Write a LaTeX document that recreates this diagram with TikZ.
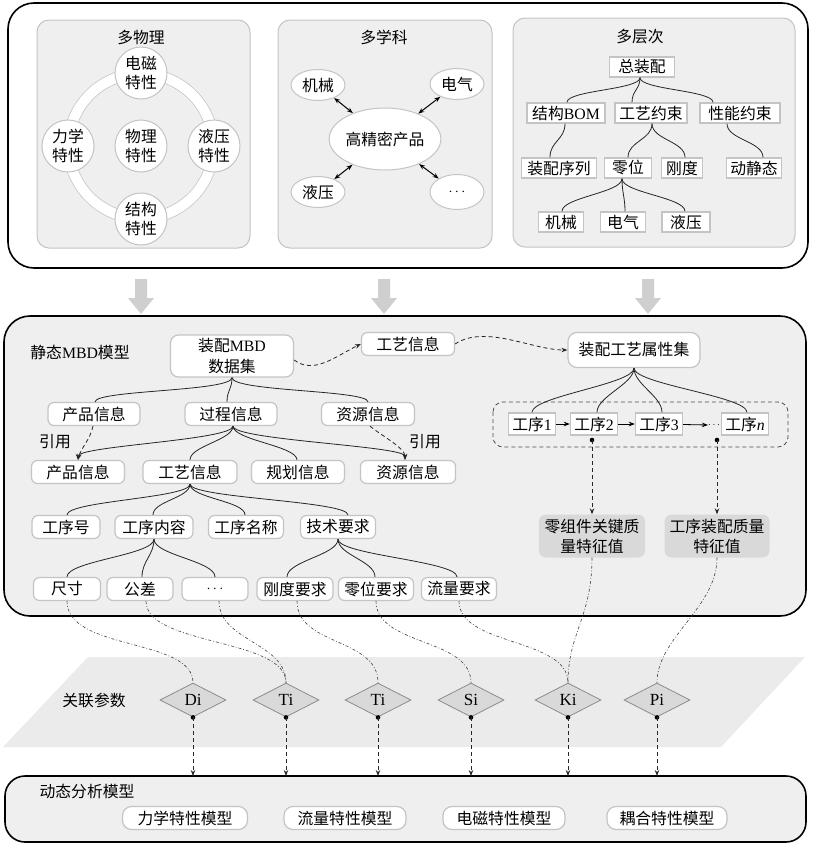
\documentclass[tikz,border=0pt]{standalone}
\usepackage{fontspec}
\setmainfont{Noto Sans CJK SC}
\newfontfamily\lat{Liberation Serif}
\usetikzlibrary{shapes.geometric,arrows.meta,calc}
\definecolor{pbg}{HTML}{EFEFEF}
\definecolor{bd}{HTML}{C4C4C4}
\definecolor{dk}{HTML}{D9D9D9}
\definecolor{arr}{HTML}{CFCFCF}
\definecolor{plane}{HTML}{EBEBEB}
\newcommand\myfs{\fontsize{15.8}{18}\selectfont}
\begin{document}
\begin{tikzpicture}[x=1pt,y=-1pt,font=\myfs,
 panel/.style={draw=black,line width=1.6pt,rounded corners=26pt},
 sub/.style={fill=pbg,draw=bd,line width=1pt,rounded corners=12pt},
 rbox/.style={draw=bd,fill=white,line width=1.2pt,rounded corners=6pt,minimum height=23pt,inner sep=1pt},
 sbox/.style={draw=bd,fill=white,line width=1.4pt,minimum height=20pt,inner sep=1.5pt},
 circ/.style={circle,draw=bd,fill=white,line width=1pt,minimum size=52pt,inner sep=0pt,align=center,font=\fontsize{15.8}{19}\selectfont},
 ell/.style={ellipse,draw=bd,fill=white,line width=1pt,inner sep=0pt,minimum width=54pt,minimum height=31pt},
 tree/.style={draw=black!85,line width=0.8pt},
 dsh/.style={draw=black!85,line width=0.8pt,dash pattern=on 4pt off 3pt},
 dd/.style={draw=black!75,line width=0.6pt,dash pattern=on 3pt off 2pt on 0.8pt off 2pt},
 dia/.style={diamond,aspect=2,draw=black!45,fill=dk,line width=0.8pt,minimum width=66pt,minimum height=34pt,inner sep=0pt,font=\lat\fontsize{17}{19}\selectfont},
 gbox/.style={fill=dk,rounded corners=7pt,align=center,minimum width=106pt,minimum height=43pt,inner sep=1pt,font=\fontsize{15.8}{20}\selectfont},
 >={Stealth[length=6pt,width=4.5pt]}
]
\useasboundingbox (0,0) rectangle (813,846);

% ---------- top panel ----------
\draw[panel,fill=white] (8,3) rectangle (808,268);
\draw[sub] (37,20) rectangle (250,248);
\draw[sub] (278,20) rectangle (492,248);
\draw[sub] (513,18) rectangle (795,247);
\node (t1) at (141,37) {多物理};
\node (t2) at (384,37) {多学科};
\node (t3) at (640,37) {多层次};

% multi-physics ring
\fill[white,even odd rule] (141,146) circle (78pt) (141,146) circle (67pt);
\draw[bd,line width=0.6pt] (141,146) circle (78pt) (141,146) circle (67pt);
\node[circ] (em) at (141,73) {电磁\\特性};
\node[circ] (lx) at (68,146) {力学\\特性};
\node[circ] (yy) at (214,146) {液压\\特性};
\node[circ] (jg) at (141,219) {结构\\特性};
\node[circ] (wl) at (141,146) {物理\\特性};

% multi-discipline
\node[ell,minimum width=96pt,minimum height=62pt] (gj) at (385,139) {高精密产品};
\node[ell] (jx) at (318,85) {机械};
\node[ell] (dq) at (457,84) {电气};
\node[ell] (yy2) at (318,192) {液压};
\node[ell,minimum height=35pt] (dt) at (457,192) {$\cdots$};
\foreach \n in {jx,dq,yy2,dt} \draw[<->,line width=1pt] (gj) -- (\n);

% multi-level
\node[sbox,minimum width=65pt] (zp) at (642,67) {总装配};
\node[sbox,minimum width=78pt] (bom) at (566,113) {结构{\lat BOM}};
\node[sbox,minimum width=72pt] (gy) at (651,113) {工艺约束};
\node[sbox,minimum width=80pt] (xn) at (740,113) {性能约束};
\node[sbox,minimum width=75pt] (xl) at (559,168) {装配序列};
\node[sbox,minimum width=47pt] (lw) at (628,168) {零位};
\node[sbox,minimum width=41pt] (gd) at (682,168) {刚度};
\node[sbox,minimum width=55pt] (dj) at (754,168) {动静态};
\node[sbox,minimum width=45pt] (jx2) at (561,222) {机械};
\node[sbox,minimum width=45pt] (dq2) at (623,222) {电气};
\node[sbox,minimum width=48pt] (yy3) at (686,222) {液压};
\draw[tree] ([xshift=-2pt]zp.south) .. controls +(0,12) and +(0,-12) .. ([xshift=1pt]bom.north);
\draw[tree] ([xshift=-2pt]zp.south) .. controls +(0,12) and +(0,-12) .. ([xshift=-19pt]gy.north);
\draw[tree] ([xshift=-2pt]zp.south) .. controls +(0,12) and +(0,-12) .. ([xshift=-27pt]xn.north);
\draw[tree] ([xshift=-1pt]bom.south) .. controls +(0,16) and +(0,-16) .. ([xshift=-9pt]xl.north);
\draw[tree] ([xshift=1pt]gy.south) .. controls +(0,16) and +(0,-16) .. (lw.north);
\draw[tree] ([xshift=1pt]gy.south) .. controls +(0,16) and +(0,-16) .. ([xshift=3pt]gd.north);
\draw[tree] ([xshift=-13pt]xn.south) .. controls +(0,16) and +(0,-16) .. ([xshift=9pt]dj.north);
\draw[tree] ([xshift=-6pt]lw.south) .. controls +(0,14) and +(0,-14) .. ([xshift=1pt]jx2.north);
\draw[tree] ([xshift=-6pt]lw.south) .. controls +(0,14) and +(0,-14) .. ([xshift=2pt]dq2.north);
\draw[tree] ([xshift=-6pt]lw.south) .. controls +(0,14) and +(0,-14) .. ([xshift=-1pt]yy3.north);

% block arrows
\foreach \x in {141,384,648}
  \fill[arr] ({\x-6},279) -- ({\x+6},279) -- ({\x+6},298) -- ({\x+13},298) -- (\x,314) -- ({\x-13},298) -- ({\x-6},298) -- cycle;

% ---------- middle panel ----------
\draw[panel,fill=pbg] (4,316) rectangle (806,616);
\node (smbd) at (80,352) {静态{\lat MBD}模型};
\node[rbox,minimum width=123pt,minimum height=42pt,align=center,rounded corners=8pt,font=\fontsize{15.8}{21}\selectfont] (mbd) at (232,356) {装配{\lat MBD}\\数据集};
\node[rbox,minimum width=93pt] (gy1) at (408,344) {工艺信息};
\node[rbox,minimum width=132pt,minimum height=35pt,rounded corners=9pt] (sx) at (634,350) {装配工艺属性集};
\node[rbox,minimum width=92pt] (cp1) at (94,414) {产品信息};
\node[rbox,minimum width=92pt] (gc) at (231,414) {过程信息};
\node[rbox,minimum width=93pt] (zy1) at (368,414) {资源信息};
\node (yy1) at (55,442) {引用};
\node (yyr) at (425,442) {引用};
\node[rbox,minimum width=93pt] (cp2) at (78,472) {产品信息};
\node[rbox,minimum width=94pt] (gy2) at (190,472) {工艺信息};
\node[rbox,minimum width=93pt] (gh) at (298,472) {规划信息};
\node[rbox,minimum width=95pt] (zy2) at (408,472) {资源信息};
\node[rbox,minimum width=68pt] (gxh) at (66,527) {工序号};
\node[rbox,minimum width=78pt] (gxnr) at (154,527) {工序内容};
\node[rbox,minimum width=75pt] (gxmc) at (246,527) {工序名称};
\node[rbox,minimum width=75pt] (jsyq) at (338,527) {技术要求};
\node[rbox,minimum width=67pt] (cc) at (67,589) {尺寸};
\node[rbox,minimum width=66pt] (gc2) at (140,589) {公差};
\node[rbox,minimum width=66pt] (el) at (215,589) {$\cdots$};
\node[rbox,minimum width=76pt] (gdyq) at (295,589) {刚度要求};
\node[rbox,minimum width=75pt] (lwyq) at (376,589) {零位要求};
\node[rbox,minimum width=75pt] (llyq) at (459,589) {流量要求};

\draw[tree] (mbd.south) .. controls +(0,14) and +(0,-12) .. ([xshift=1pt]cp1.north);
\draw[tree] (mbd.south) .. controls +(0,12) and +(0,-12) .. ([xshift=-4pt]gc.north);
\draw[tree] (mbd.south) .. controls +(0,14) and +(0,-12) .. (zy1.north);
\draw[tree,->] ([xshift=2pt]gc.south) .. controls +(0,14) and +(0,-14) .. (cp2.north);
\draw[tree] ([xshift=2pt]gc.south) .. controls +(0,14) and +(0,-14) .. (gy2.north);
\draw[tree] ([xshift=2pt]gc.south) .. controls +(0,14) and +(0,-14) .. ([xshift=-1pt]gh.north);
\draw[tree,->] ([xshift=2pt]gc.south) .. controls +(0,14) and +(0,-14) .. ([xshift=-3pt]zy2.north);
\draw[dsh,->] ([xshift=-1pt]cp1.south) .. controls +(-3,14) and +(3,-12) .. (cp2.north);
\draw[dsh,->] ([xshift=2pt]zy1.south) .. controls +(12,10) and +(0,-12) .. ([xshift=-3pt]zy2.north);
\draw[tree] (gy2.south) .. controls +(0,14) and +(0,-14) .. ([xshift=1pt]gxh.north);
\draw[tree] (gy2.south) .. controls +(0,14) and +(0,-14) .. ([xshift=-1pt]gxnr.north);
\draw[tree] (gy2.south) .. controls +(0,14) and +(0,-14) .. ([xshift=-1pt]gxmc.north);
\draw[tree] (gy2.south) .. controls +(0,14) and +(0,-14) .. ([xshift=10pt]jsyq.north);
\draw[tree] (gxnr.south) .. controls +(0,16) and +(0,-16) .. (cc.north);
\draw[tree] (gxnr.south) .. controls +(0,16) and +(0,-16) .. ([xshift=2pt]gc2.north);
\draw[tree] (gxnr.south) .. controls +(0,16) and +(0,-16) .. (el.north);
\draw[tree] (jsyq.south) .. controls +(0,16) and +(0,-16) .. ([xshift=-8pt]gdyq.north);
\draw[tree] (jsyq.south) .. controls +(0,16) and +(0,-16) .. ([xshift=-1pt]lwyq.north);
\draw[tree] (jsyq.south) .. controls +(0,16) and +(0,-16) .. ([xshift=-2pt]llyq.north);

\draw[dsh,->] ([yshift=-4pt]mbd.east) .. controls +(20,15) and +(-25,12) .. (gy1.west);
\draw[dsh,->] (gy1.east) .. controls +(30,-20) and +(-35,0) .. (sx.west);

% process chain
\draw[draw=black!70,line width=0.8pt,dash pattern=on 4pt off 3pt,rounded corners=10pt] (493,402) rectangle (788,447);
\node[sbox,minimum width=47pt,minimum height=22pt] (g1) at (532,424) {工序{\lat 1}};
\node[sbox,minimum width=47pt,minimum height=22pt] (g2) at (594,424) {工序{\lat 2}};
\node[sbox,minimum width=47pt,minimum height=22pt] (g3) at (659,424) {工序{\lat 3}};
\node[sbox,minimum width=47pt,minimum height=22pt] (gn) at (745,424) {工序{\lat\itshape n}};
\node[inner sep=0pt,font=\fontsize{10}{10}\selectfont] (dots) at (714,425) {$\cdots$};
\draw[->,line width=0.8pt] (g1) -- (g2);
\draw[->,line width=0.8pt] (g2) -- (g3);
\draw[->,line width=0.8pt] (g3) -- (dots.west);
\draw[tree] (sx.south) .. controls +(0,16) and +(0,-16) .. (g1.north);
\draw[tree] (sx.south) .. controls +(0,16) and +(0,-16) .. ([xshift=3pt]g2.north);
\draw[tree] (sx.south) .. controls +(0,16) and +(0,-16) .. ([xshift=3pt]g3.north);
\draw[tree] (sx.south) .. controls +(0,16) and +(0,-16) .. ([xshift=2pt]gn.north);

\coordinate (d1) at (592,440);
\coordinate (d2) at (717,440);
\fill (d1) circle (2.3pt);
\fill (d2) circle (2.3pt);
\node[gbox] (kq) at (592,536) {零组件关键质\\量特征值};
\node[gbox,minimum width=105pt] (gq) at (717,536) {工序装配质量\\特征值};
\draw[dsh,->] (d1) -- (kq.north);
\draw[dsh,->] (d2) -- (gq.north);

% ---------- parameter plane ----------
\fill[plane] (88,657) -- (805,657) -- (721,747) -- (3,747) -- cycle;
\node (glcs) at (94,701) {关联参数};
\node[dia] (Di) at (193,700) {Di};
\node[dia] (T1) at (286,700) {Ti};
\node[dia] (T2) at (378,700) {Ti};
\node[dia] (Si) at (471,700) {Si};
\node[dia] (Ki) at (568,700) {Ki};
\node[dia] (Pi) at (657,700) {Pi};

% ---------- bottom panel ----------
\draw[panel,fill=pbg,rounded corners=20pt] (5,776) rectangle (806,842);
\coordinate (bt) at (0,776);
\foreach \n in {Di,T1,T2,Si,Ki,Pi}{
  \fill (\n.south) circle (2.3pt);
  \draw[dsh,->] (\n.south) -- (\n.south |- bt);
}
\node (dt2) at (87,791) {动态分析模型};
\node[rbox,minimum width=125pt,rounded corners=9pt] (m1) at (185,818) {力学特性模型};
\node[rbox,minimum width=122pt,rounded corners=9pt] (m2) at (345,818) {流量特性模型};
\node[rbox,minimum width=122pt,rounded corners=9pt] (m3) at (504,818) {电磁特性模型};
\node[rbox,minimum width=120pt,rounded corners=9pt] (m4) at (667,818) {耦合特性模型};

% ---------- dash-dot links ----------
\draw[dd] (cc.south) .. controls +(0,50) and +(0,-45) .. (Di.north);
\draw[dd] ([xshift=6pt]gc2.south) .. controls +(0,45) and +(0,-45) .. (T1.north);
\draw[dd] ([xshift=4pt]el.south) .. controls +(0,40) and +(0,-40) .. (T1.north);
\draw[dd] ([xshift=2pt]gdyq.south) .. controls +(0,45) and +(0,-45) .. (T2.north);
\draw[dd] (lwyq.south) .. controls +(0,45) and +(0,-45) .. (Si.north);
\draw[dd] (llyq.south) .. controls +(0,45) and +(0,-45) .. (Ki.north);
\draw[dd] (kq.south) .. controls +(0,60) and +(0,-50) .. (Ki.north);
\draw[dd] (gq.south) .. controls +(0,50) and +(0,-45) .. (Pi.north);
\end{tikzpicture}
\end{document}
